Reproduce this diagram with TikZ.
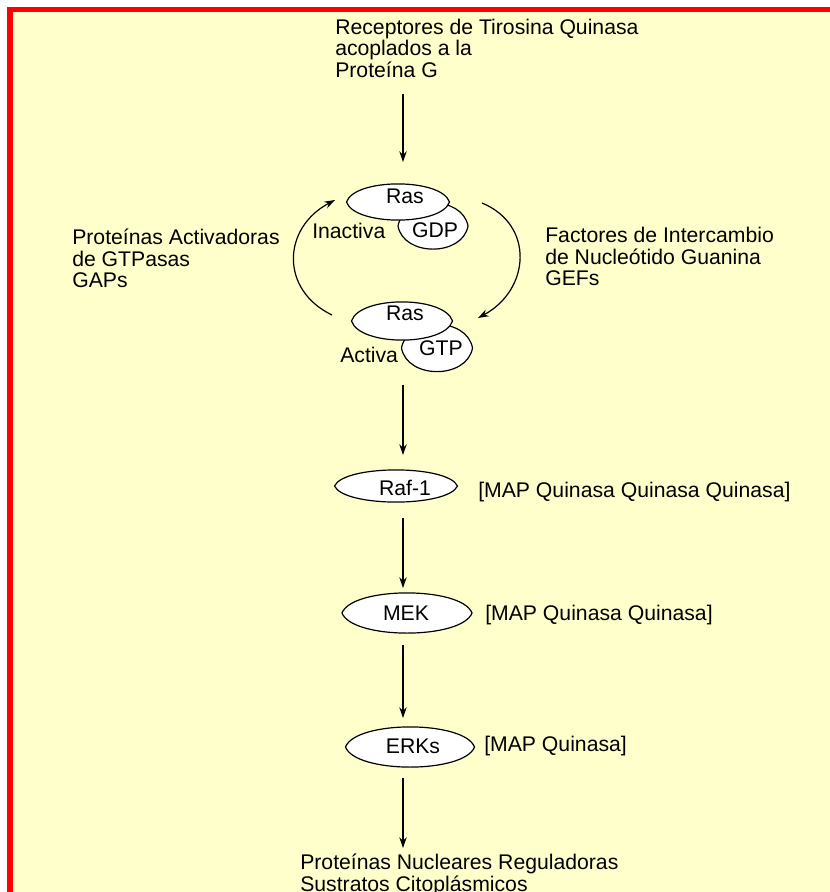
\documentclass[tikz,border=0pt]{standalone}
\usepackage{fontspec}
\setmainfont{Liberation Sans}
\usetikzlibrary{arrows.meta,calc}

\definecolor{fondo}{RGB}{255,255,204}
\definecolor{borde}{RGB}{255,0,0}

\tikzset{
  lemon/.style 2 args={minimum width=#1*0.75pt, minimum height=#2*0.75pt, inner sep=0pt, outer sep=0pt},
  txt/.style={inner sep=0pt, align=left, font=\fontsize{15.9}{16.1}\selectfont},
  flecha/.style={-{Stealth[length=8pt,width=5.5pt]}, line width=0.9pt},
}

% name, x, y, width, height (px)
\newcommand\lemon[5]{%
  \node[lemon={#4}{#5}] (#1) at (#2,#3) {};
  \draw[fill=white, line width=0.9pt] (#1.west)
    .. controls ($(#1.west)+(0.08*#4,-0.67*#5)$) and ($(#1.east)+(-0.08*#4,-0.67*#5)$) .. (#1.east)
    .. controls ($(#1.east)+(-0.08*#4,0.67*#5)$) and ($(#1.west)+(0.08*#4,0.67*#5)$) .. (#1.west) -- cycle;}

\begin{document}
\begin{tikzpicture}[x=0.75pt, y=-0.75pt]
    \fill[white] (0,0) rectangle (830,892);
    \useasboundingbox (0,0) rectangle (830,892);
    \fill[fondo] (7,7) rectangle (830,892);
    \fill[borde] (7,7) rectangle (830,12.5);
    \fill[borde] (7,7) rectangle (12.5,892);

    \coordinate (eje) at (403,0);
    \node[txt, anchor=north west] (rtk) at (335,18.5) {Receptores de Tirosina Quinasa\\acoplados a la\\Proteína G};

    % ciclo de Ras
    \lemon{gdp}{433}{226}{70}{46}
    \node[txt, anchor=base] (gdpt) at (435,237) {GDP};
    \lemon{ras1}{398}{202}{103}{36}
    \node[txt, anchor=base] (ras1t) at (405,203) {Ras};
    \node[txt, anchor=base west] (inact) at (312,238) {Inactiva};

    \lemon{gtp}{437}{348}{71}{47}
    \node[txt, anchor=base] (gtpt) at (441,355) {GTP};
    \lemon{ras2}{402}{321}{101}{38}
    \node[txt, anchor=base] (ras2t) at (405,320) {Ras};
    \node[txt, anchor=base west] (act) at (340,362) {Activa};

    \draw[flecha] ($(ras2.west)+(-19.5,-6)$) .. controls ($(ras2.west)+(-71.5,-31)$) and ($(ras1.west)+(-64.5,26)$) .. ($(ras1.west)+(-11.5,-2)$);
    \draw[flecha] ($(ras1.east)+(32.5,1)$) .. controls ($(ras1.east)+(85.5,23)$) and ($(ras2.east)+(77.5,-31)$) .. ($(ras2.east)+(25.5,-3)$);

    \node[txt, anchor=north west] (gaps) at (72,229) {Proteínas Activadoras\\de GTPasas\\GAPs};
    \node[txt, anchor=north west] (gefs) at (545,227) {Factores de Intercambio\\de Nucleótido Guanina\\GEFs};

    % cascada MAP
    \lemon{raf}{396}{486}{123}{32}
    \node[txt, anchor=base] (raft) at (405,495) {Raf-1};
    \node[txt, anchor=base west] (mapkkk) at (478,497) {[MAP Quinasa Quinasa Quinasa]};

    \lemon{mek}{407}{613}{130}{40}
    \node[txt, anchor=base] (mekt) at (406,620) {MEK};
    \node[txt, anchor=base west] (mapkk) at (485,620) {[MAP Quinasa Quinasa]};

    \lemon{erk}{410}{747}{129}{40}
    \node[txt, anchor=base] (erkt) at (413,753) {ERKs};
    \node[txt, anchor=base west] (mapk) at (484,751) {[MAP Quinasa]};

    \node[txt, anchor=north west] (sus) at (300,854) {Proteínas Nucleares Reguladoras\\Sustratos Citoplásmicos};

    \foreach \from/\to/\a/\b in {rtk/ras1/12/16.5, gtp/raf/10/11.25, raf/mek/12/3.75, mek/erk/9/6.75, erk/sus/8.25/4.5}
        \draw[flecha, shorten <=\a pt, shorten >=\b pt] (\from.south -| eje) -- (\to.north -| eje);
\end{tikzpicture}
\end{document}
